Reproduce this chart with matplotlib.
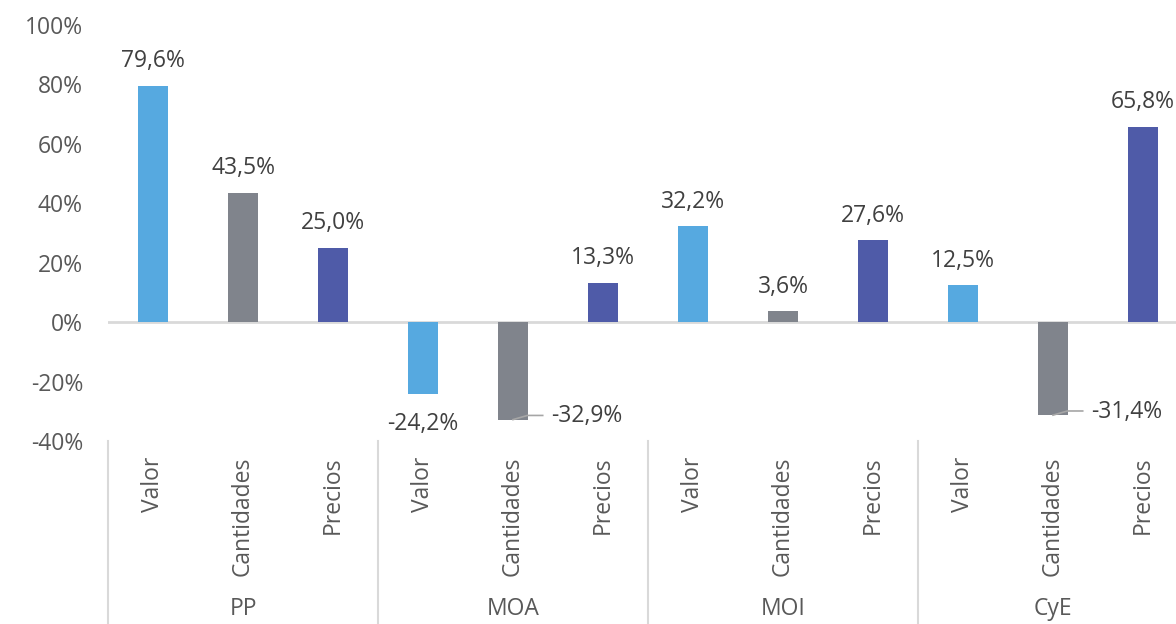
import matplotlib.pyplot as plt
import matplotlib.transforms as mtransforms

# Data
groups = ["PP", "MOA", "MOI", "CyE"]
subcats = ["Valor", "Cantidades", "Precios"]
pp = [79.6, 43.5, 25.0]
moa = [-24.2, -32.9, 13.3]
moi = [32.2, 3.6, 27.6]
cye = [12.5, -31.4, 65.8]
yticks = [-40, -20, 0, 20, 40, 60, 80, 100]

colors = ["#56A9E0", "#80848C", "#4F5BA8"]
txt = "#404040"

plt.rcParams['font.family'] = ['Open Sans', 'DejaVu Sans']

W, H = 1176, 624
fig = plt.figure(figsize=(W / 100, H / 100), dpi=100)
# axes spans beyond the right edge (chart is cropped there)
ax = fig.add_axes([108 / W, (H - 441) / H, 1080 / W, 416 / H])

values = pp + moa + moi + cye
xs = list(range(len(values)))
bar_colors = colors * len(groups)
ax.bar(xs, values, width=0.33, color=bar_colors, zorder=2)

ax.set_xlim(-0.5, 11.5)
ax.set_ylim(-40, 100)
ax.axhline(0, color="#d9d9d9", lw=2, zorder=1)

for s in ax.spines.values():
    s.set_visible(False)

ax.set_yticks(yticks)
ax.set_yticklabels([f"{t}%" for t in yticks], fontsize=16.5, color="#595959")
ax.tick_params(axis="y", length=0, pad=18)

ax.set_xticks(xs)
ax.set_xticklabels(subcats * len(groups), rotation=90, fontsize=16.5, color="#595959")
ax.tick_params(axis="x", length=0, pad=11)


def fmt(v):
    return f"{v:.1f}".replace(".", ",") + "%"


for x, v in zip(xs, values):
    if v >= 0:
        ax.annotate(fmt(v), (x, v), xytext=(0, 9), textcoords="offset points",
                    ha="center", va="bottom", fontsize=16.5, color=txt)
    elif x == 3:
        ax.annotate(fmt(v), (x, v), xytext=(0, -13), textcoords="offset points",
                    ha="center", va="top", fontsize=16.5, color=txt)
    else:
        # label on the right with a leader line
        ax.annotate(fmt(v), xy=(x, v), xytext=(x + 0.42, v + 1.2),
                    ha="left", va="center", fontsize=16.5, color=txt)
        ax.plot([x, x + 0.16, x + 0.33], [v + 0.1, v + 1.5, v + 1.5],
                color="#a6a6a6", lw=1.2, zorder=3, clip_on=False)

# group separators and labels
trans = mtransforms.blended_transform_factory(ax.transData, ax.transAxes)
for i in range(len(groups)):
    ax.plot([i * 3 - 0.5] * 2, [0, -0.45], transform=trans, color="#d9d9d9",
            lw=1.5, clip_on=False)
    ax.text(i * 3 + 1, -0.405, groups[i], transform=trans, ha="center",
            va="center", fontsize=16.5, color="#595959")

fig.savefig("out.png", dpi=100)
